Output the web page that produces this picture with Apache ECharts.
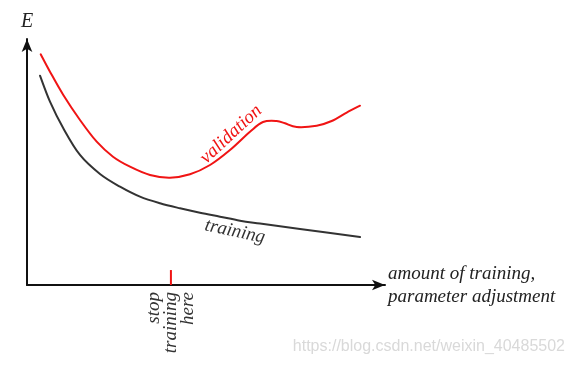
<!DOCTYPE html>
<html><head><meta charset="utf-8">
<script src="https://cdn.jsdelivr.net/npm/echarts@6/dist/echarts.min.js"></script>
<style>html,body{margin:0;padding:0;background:#fff}#c{width:576px;height:367px}</style>
</head><body><div id="c"></div>
<script>
// ---- data (arbitrary units: x = amount of training, y = error E) ----
const validationX = [3.83, 6.42, 10.14, 14.80, 19.47, 24.02, 28.77, 34.36, 39.94, 45.53, 51.12, 56.70, 62.29, 65.92, 69.75, 72.07, 75.34, 80.92, 85.11, 89.30, 93.02];
const validationY = [94.16, 87.06, 77.55, 67.35, 58.49, 52.37, 48.29, 44.90, 43.80, 45.18, 48.98, 55.10, 62.57, 66.53, 66.94, 66.00, 64.49, 65.02, 66.94, 70.40, 73.18];
const trainingX = [3.63, 6.42, 10.14, 14.80, 20.39, 25.98, 31.56, 37.15, 42.74, 48.32, 53.91, 59.50, 65.08, 76.26, 93.02];
const trainingY = [85.43, 74.82, 63.96, 53.06, 45.31, 40.12, 36.04, 33.35, 31.31, 29.51, 27.88, 26.24, 25.06, 22.86, 19.59];
const stopX = [40.2, 40.2];
const stopY = [0, 6.1];
const yAxisName = 'E';
const xAxisName = 'amount of training,\nparameter adjustment';
const validationLabel = 'validation';
const trainingLabel = 'training';
const stopLabel = 'stop\ntraining\nhere';
const watermark = 'https://blog.csdn.net/weixin_40485502';

const zip = (xs, ys) => xs.map((x, i) => [x, ys[i]]);
const serif = "'Liberation Serif', 'DejaVu Serif', serif";

// smooth curve (Catmull-Rom -> cubic Bezier) through points mapped by the axes
function smoothRender(xs, ys, color) {
  return function (params, api) {
    if (params.dataIndex !== 0) return null;
    const p = xs.map((x, i) => api.coord([x, ys[i]]));
    let d = 'M' + p[0][0] + ' ' + p[0][1];
    for (let i = 0; i < p.length - 1; i++) {
      const p0 = p[Math.max(i - 1, 0)], p1 = p[i], p2 = p[i + 1], p3 = p[Math.min(i + 2, p.length - 1)];
      const c1 = [p1[0] + (p2[0] - p0[0]) / 6, p1[1] + (p2[1] - p0[1]) / 6];
      const c2 = [p2[0] - (p3[0] - p1[0]) / 6, p2[1] - (p3[1] - p1[1]) / 6];
      d += ' C' + c1[0] + ' ' + c1[1] + ' ' + c2[0] + ' ' + c2[1] + ' ' + p2[0] + ' ' + p2[1];
    }
    return {type: 'path', shape: {pathData: d},
            style: {stroke: color, lineWidth: 2, fill: 'none', lineJoin: 'round', lineCap: 'round'}};
  };
}

const chart = echarts.init(document.getElementById('c'), null, {renderer: 'canvas'});
const axisCommon = {
  type: 'value',
  axisTick: {show: false},
  axisLabel: {show: false},
  splitLine: {show: false},
  axisLine: {show: true, onZero: false, lineStyle: {color: '#111', width: 2},
             symbol: ['none', 'arrow'], symbolSize: [8, 13]}
};
chart.setOption({
  animation: false,
  backgroundColor: '#fff',
  grid: {left: 27, right: 191, top: 39, bottom: 82},
  xAxis: Object.assign({}, axisCommon, {
    min: 0, max: 100,
    name: xAxisName, nameLocation: 'end', nameGap: 3,
    nameTextStyle: {fontFamily: serif, fontStyle: 'italic', fontSize: 19, color: '#222',
                    align: 'left', verticalAlign: 'middle', lineHeight: 23, padding: [0, 0, 6, 0]}
  }),
  yAxis: Object.assign({}, axisCommon, {
    min: 0, max: 100.4,
    name: yAxisName, nameLocation: 'end', nameGap: 17,
    nameTextStyle: {fontFamily: serif, fontStyle: 'italic', fontSize: 20, color: '#222',
                    align: 'center', verticalAlign: 'middle'}
  }),
  series: [
    {type: 'custom', data: zip(validationX, validationY), renderItem: smoothRender(validationX, validationY, '#f01414'), z: 3, clip: false},
    {type: 'custom', data: zip(trainingX, trainingY), renderItem: smoothRender(trainingX, trainingY, '#333'), z: 3, clip: false},
    {type: 'line', data: zip(stopX, stopY), showSymbol: false,
     lineStyle: {color: '#f01414', width: 2}, z: 4}
  ]
});

const px = p => chart.convertToPixel({gridIndex: 0}, p);
const vPos = px([57.0, 61.5]);
const tPos = px([58.1, 21.8]);
const sPos = px([stopX[0], 0]);
chart.setOption({
  graphic: [
    {type: 'text', x: vPos[0], y: vPos[1], rotation: 43 * Math.PI / 180,
     style: {text: validationLabel, font: "italic 19px " + serif, fill: '#f01414',
             textAlign: 'center', textVerticalAlign: 'middle'}},
    {type: 'text', x: tPos[0], y: tPos[1], rotation: -12 * Math.PI / 180,
     style: {text: trainingLabel, font: "italic 19px " + serif, fill: '#333',
             textAlign: 'center', textVerticalAlign: 'middle'}},
    {type: 'text', x: sPos[0], y: sPos[1] + 7, rotation: Math.PI / 2,
     style: {text: stopLabel, font: "italic 19px " + serif, fill: '#333', lineHeight: 17,
             textAlign: 'right', textVerticalAlign: 'middle'}},
    {type: 'text', right: 11, top: 339,
     style: {text: watermark, font: "16px 'Liberation Sans', Arial, sans-serif", fill: '#d9d9d9'}}
  ]
});
</script></body></html>
